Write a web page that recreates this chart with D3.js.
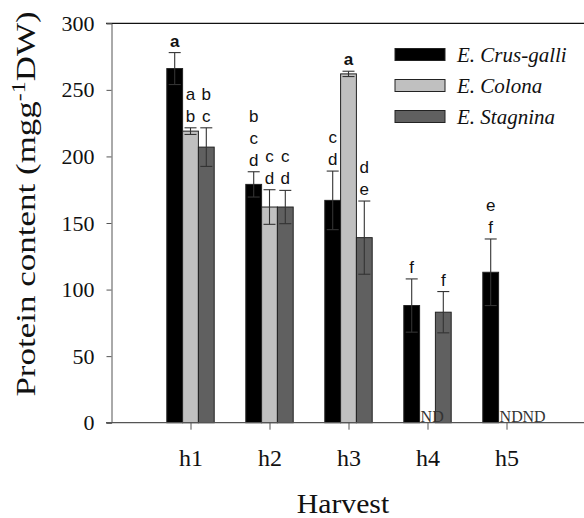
<!DOCTYPE html>
<html>
<head>
<meta charset="utf-8">
<script src="https://cdn.jsdelivr.net/npm/d3@7/dist/d3.min.js"></script>
<style>
  html, body { margin: 0; padding: 0; background: #fff; }
  svg { display: block; }
</style>
</head>
<body>
<svg id="chart" width="584" height="518"></svg>
<script>
// Harvest categories
const categories = ["h1", "h2", "h3", "h4", "h5"];
const seriesNames = ["E. Crus-galli", "E. Colona", "E. Stagnina"];

// Protein content (mg g-1 DW); null = not detected
const crusGalli = [266, 179, 167, 88, 113];
const colona    = [219, 162, 262, null, null];
const stagnina  = [207, 162, 139, 83, null];

// Error bar half-lengths
const crusGalliErr = [12, 9.5, 22, 20, 25];
const colonaErr    = [2.5, 13, 2, null, null];
const stagninaErr  = [14.5, 12.5, 27.5, 15.5, null];

// Significance letters
const crusGalliLetters = ["a", "bcd", "cd", "f", "ef"];
const colonaLetters    = ["ab", "cd", "a", "", ""];
const stagninaLetters  = ["bc", "cd", "de", "f", ""];

const yTicks = [0, 50, 100, 150, 200, 250, 300];

const series = [
  { name: seriesNames[0], values: crusGalli, err: crusGalliErr, letters: crusGalliLetters, fill: "#000000" },
  { name: seriesNames[1], values: colona,    err: colonaErr,    letters: colonaLetters,    fill: "#c0c0c0" },
  { name: seriesNames[2], values: stagnina,  err: stagninaErr,  letters: stagninaLetters,  fill: "#606060" }
];

const svg = d3.select("#chart");

const x = d3.scaleLinear().domain([0, 6]).range([111.5, 585.5]);
const y = d3.scaleLinear().domain([0, 300]).range([422.7, 23.3]);
const barW = 0.2; // in category units

const serif = "'Liberation Serif', 'Times New Roman', serif";
const sans = "'Liberation Sans', Arial, sans-serif";

// Frame top line
svg.append("line")
  .attr("x1", 106).attr("x2", 584)
  .attr("y1", y(300)).attr("y2", y(300))
  .attr("stroke", "#111").attr("stroke-width", 1.2);

// Y axis
const yAxis = svg.append("g")
  .attr("transform", `translate(${x(0)},0)`)
  .call(d3.axisLeft(y).tickValues(yTicks).tickSize(5).tickPadding(12));
yAxis.select(".domain").attr("stroke", "#555").attr("stroke-width", 1);
yAxis.selectAll(".tick line").attr("stroke", "#555");
yAxis.selectAll(".tick text")
  .attr("font-family", serif).attr("font-size", 22).attr("fill", "#111");

// Bars
const bars = [];
series.forEach((s, si) => {
  s.values.forEach((v, ci) => {
    const pos = ci + 1 + (si - 1.5) * barW;
    bars.push({ s, si, ci, v, e: s.err[ci], letters: s.letters[ci], x0: pos });
  });
});

const present = bars.filter(d => d.v != null);

svg.append("g").selectAll("rect")
  .data(present)
  .join("rect")
  .attr("x", d => x(d.x0))
  .attr("width", x(barW) - x(0))
  .attr("y", d => y(d.v))
  .attr("height", d => y(0) - y(d.v))
  .attr("fill", d => d.s.fill)
  .attr("stroke", "#222")
  .attr("stroke-width", 1);

// Error bars
const eb = svg.append("g").attr("stroke", "#333").attr("stroke-width", 1.1);
present.forEach(d => {
  const cx = x(d.x0 + barW / 2);
  const top = y(d.v + d.e), bot = y(d.v - d.e);
  eb.append("line").attr("x1", cx).attr("x2", cx).attr("y1", top).attr("y2", bot);
  eb.append("line").attr("x1", cx - 6).attr("x2", cx + 6).attr("y1", top).attr("y2", top);
  eb.append("line").attr("x1", cx - 6).attr("x2", cx + 6).attr("y1", bot).attr("y2", bot);
});

// Significance letters, stacked upward from the error bar top
const lg = svg.append("g").attr("font-family", sans).attr("font-size", 17)
  .attr("text-anchor", "middle").attr("fill", "#111");
present.forEach(d => {
  const cx = x(d.x0 + barW / 2);
  const base = y(d.v + d.e) - 6;
  const chars = d.letters.split("");
  chars.forEach((c, k) => {
    lg.append("text")
      .attr("x", cx)
      .attr("y", base - (chars.length - 1 - k) * 22)
      .attr("font-weight", d.letters === "a" ? "bold" : "normal")
      .text(c);
  });
});

// Not detected markers
const nd = bars.filter(d => d.v == null);
svg.append("g").selectAll("text")
  .data(nd)
  .join("text")
  .attr("x", d => x(d.x0) + (d.si === 2 ? 8 : 1))
  .attr("y", y(0) - 1)
  .attr("font-family", serif).attr("font-size", 16).attr("fill", "#333")
  .text("ND");

// X axis
const xAxis = svg.append("g")
  .attr("transform", `translate(0,${y(0)})`)
  .call(d3.axisBottom(x).tickValues(d3.range(1, categories.length + 1))
    .tickFormat(i => categories[i - 1]).tickSize(7).tickSizeOuter(0));
xAxis.select(".domain").remove();
xAxis.append("line").attr("x1", 106).attr("x2", 584).attr("y1", 0).attr("y2", 0)
  .attr("stroke", "#555").attr("stroke-width", 1.2);
xAxis.selectAll(".tick line").attr("stroke", "#555");
xAxis.selectAll(".tick text")
  .attr("font-family", serif).attr("font-size", 24).attr("fill", "#111")
  .attr("y", 43).attr("dy", 0);

// Axis titles (slightly widened serif lettering)
svg.append("text")
  .attr("transform", "translate(343,513) scale(1.1,1)")
  .attr("text-anchor", "middle")
  .attr("font-family", serif).attr("font-size", 27).attr("fill", "#111")
  .text("Harvest");

const yt = svg.append("text")
  .attr("transform", "translate(35,204) rotate(-90) scale(1.25,1)")
  .attr("text-anchor", "middle")
  .attr("font-family", serif).attr("font-size", 28).attr("fill", "#111");
yt.append("tspan").text("Protein content (mgg");
yt.append("tspan").attr("font-size", 19).attr("dy", -10).text("-1");
yt.append("tspan").attr("dy", 10).text("DW)");

// Legend
const legend = svg.append("g");
series.forEach((s, i) => {
  const ly = 48.5 + i * 31;
  legend.append("rect")
    .attr("x", 395).attr("y", ly).attr("width", 50).attr("height", 12)
    .attr("fill", s.fill).attr("stroke", "#222").attr("stroke-width", 1);
  legend.append("text")
    .attr("x", 457).attr("y", ly + 13)
    .attr("font-family", serif).attr("font-style", "italic")
    .attr("font-size", 21).attr("fill", "#111")
    .text(s.name);
});
</script>
</body>
</html>
